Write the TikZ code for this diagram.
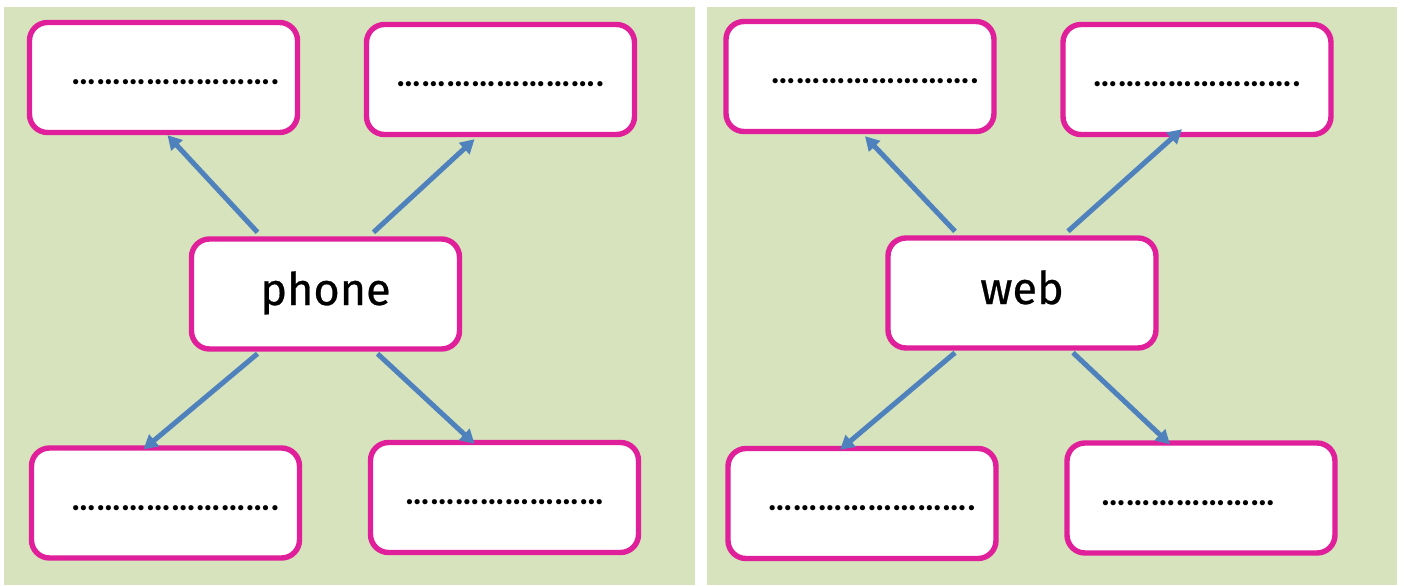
\documentclass[tikz,border=0pt]{standalone}
\usepackage{fontspec}
\setmainfont{Fira Sans}
\newfontfamily\dotfont{Carlito}
\usepackage{tikz}
\usetikzlibrary{arrows.meta}
\definecolor{panelgreen}{HTML}{D6E3BC}
\definecolor{boxpink}{HTML}{E0209B}
\definecolor{arrowblue}{HTML}{4F81BD}
\newcommand{\dotrow}[1]{\foreach \k in {1,...,#1}{\char"2026}}

\begin{document}
\begin{tikzpicture}[x=0.5pt,y=-0.5pt]
    \tikzstyle{panel}=[fill=panelgreen,draw=none]
    \tikzstyle{blank}=[draw=boxpink,line width=2.7pt,fill=white,rounded corners=9pt,
                       minimum width=134pt,minimum height=55pt,inner sep=0pt,
                       text height=10pt,text depth=3pt,
                       font=\dotfont\fontsize{17.5}{20}\selectfont\bfseries]
    \tikzstyle{hub}=[blank,text height=16pt,text depth=5pt,
                     font=\fontsize{22.5}{26}\selectfont\addfontfeature{FakeBold=0.6}]
    \tikzstyle{edge}=[draw,line width=2.5pt,arrowblue,-{Triangle[length=7pt,width=7.5pt]}]
    \useasboundingbox (0,0) rectangle (1404,585);
    \fill[panel] (4,7) rectangle (695,585);
    \fill[panel] (707,7) rectangle (1397,585);
    % left panel
    \node[hub] (phone) at (325.5,294) {phone};
    \node[blank] (pl1) at (163.5,77.5) {\hspace*{12pt}\dotrow{8}.};
    \node[blank] (pl2) at (500.5,79.5) {\dotrow{8}.};
    \node[blank] (pl3) at (165.5,503) {\hspace*{10pt}\dotrow{8}.};
    \node[blank] (pl4) at (504.5,497.5) {\dotrow{8}};
    \draw[edge] ([xshift=-34pt,yshift=2pt]phone.north) -- ([xshift=2pt]pl1.south);
    \draw[edge] ([xshift=24pt,yshift=2pt]phone.north) -- ([xshift=-13pt,yshift=-1pt]pl2.south);
    \draw[edge] ([xshift=-34pt,yshift=-1pt]phone.south) -- ([xshift=-11pt,yshift=-2pt]pl3.north);
    \draw[edge] ([xshift=26pt,yshift=-1pt]phone.south) -- ([xshift=-15pt,yshift=-2pt]pl4.north);
    % right panel
    \node[hub] (web) at (1022,293) {web};
    \node[blank] (wr1) at (860,76.5) {\hspace*{15pt}\dotrow{8}.};
    \node[blank] (wr2) at (1197,79.5) {\dotrow{8}.};
    \node[blank] (wr3) at (862,503.5) {\hspace*{10pt}\dotrow{8}.};
    \node[blank] (wr4) at (1201,498) {\dotrow{7}\hspace*{13pt}};
    \draw[edge] ([xshift=-33.5pt,yshift=2pt]web.north) -- ([xshift=2.5pt,yshift=-1pt]wr1.south);
    \draw[edge] ([xshift=23pt,yshift=2pt]web.north) -- ([xshift=-7.5pt,yshift=4pt]wr2.south);
    \draw[edge] ([xshift=-33.5pt,yshift=-1pt]web.south) -- ([xshift=-11pt,yshift=-2pt]wr3.north);
    \draw[edge] ([xshift=25.5pt,yshift=-1pt]web.south) -- ([xshift=-15.5pt,yshift=-2pt]wr4.north);
\end{tikzpicture}
\end{document}
